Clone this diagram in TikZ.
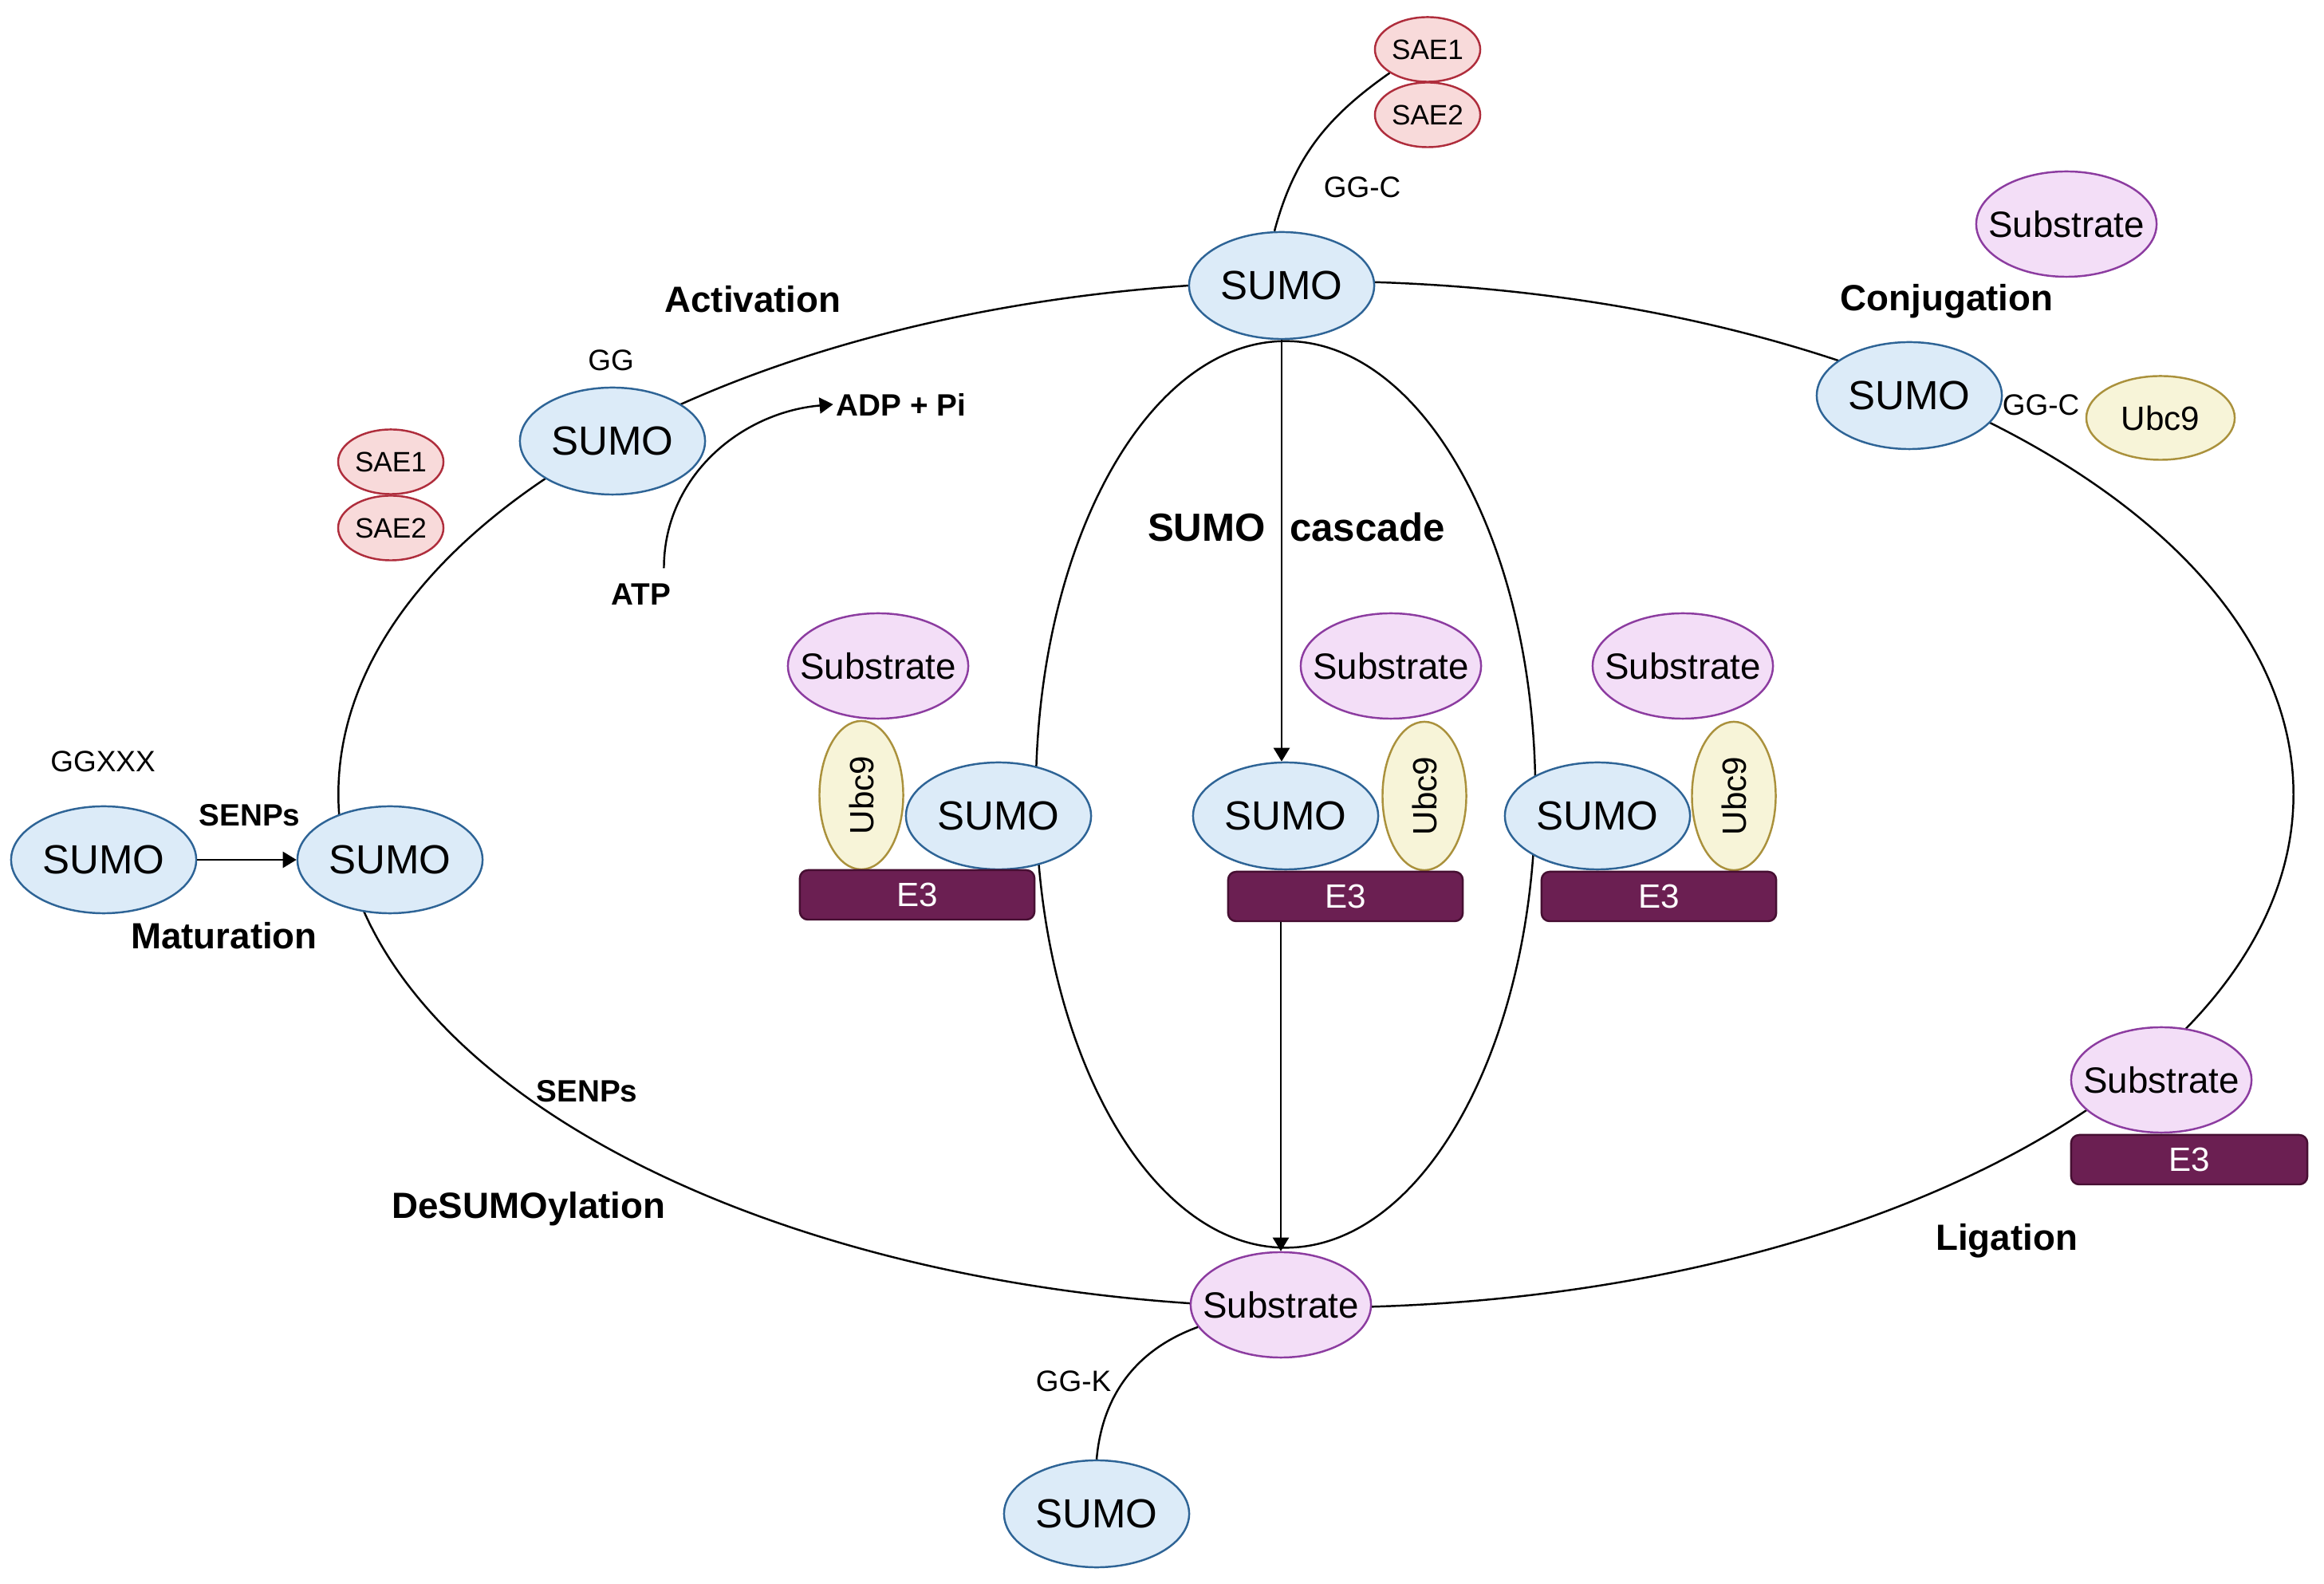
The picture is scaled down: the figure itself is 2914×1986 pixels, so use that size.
\documentclass[tikz,border=0pt]{standalone}
\usepackage{fontspec}
\setmainfont{Liberation Sans}
\usetikzlibrary{arrows.meta,shapes.geometric}
\definecolor{sumofill}{HTML}{DCEBF8}
\definecolor{sumoline}{HTML}{2E6496}
\definecolor{subfill}{HTML}{F3DEF7}
\definecolor{subline}{HTML}{8C3CA0}
\definecolor{saefill}{HTML}{F8DADA}
\definecolor{saeline}{HTML}{AF2D3C}
\definecolor{ubcfill}{HTML}{F7F4D8}
\definecolor{ubcline}{HTML}{AA913C}
\definecolor{ethreefill}{HTML}{6B1F52}
\definecolor{ethreeline}{HTML}{460F32}
\begin{document}
\begin{tikzpicture}[x=0.01cm,y=0.01cm,
  nowidth/.style={execute at begin node={\hbox to 0pt\bgroup\hss},execute at end node={\hss\egroup}},
  sumo/.style={ellipse,nowidth,draw=sumoline,fill=sumofill,line width=0.7pt,minimum width=2.32cm,minimum height=1.34cm,inner sep=0pt,font=\fontsize{14.5}{16}\selectfont},
  subs/.style={ellipse,nowidth,draw=subline,fill=subfill,line width=0.7pt,minimum width=2.26cm,minimum height=1.32cm,inner sep=0pt,font=\fontsize{13}{15}\selectfont},
  sae/.style={ellipse,nowidth,draw=saeline,fill=saefill,line width=0.7pt,minimum width=1.32cm,minimum height=0.81cm,inner sep=0pt,font=\fontsize{10}{12}\selectfont},
  ubch/.style={ellipse,nowidth,draw=ubcline,fill=ubcfill,line width=0.7pt,minimum width=1.86cm,minimum height=1.05cm,inner sep=0pt,font=\fontsize{12}{14}\selectfont},
  ethree/.style={rectangle,rounded corners=0.1cm,draw=ethreeline,fill=ethreefill,line width=0.7pt,minimum width=2.94cm,minimum height=0.62cm,inner sep=0pt,text=white,font=\fontsize{12}{14}\selectfont},
  phase/.style={font=\bfseries\fontsize{13}{15}\selectfont,inner sep=1pt},
  bsmall/.style={font=\bfseries\fontsize{11}{13}\selectfont,inner sep=1pt},
  small/.style={font=\fontsize{10.5}{12}\selectfont,inner sep=1pt},
  arr/.style={-{Triangle[length=0.17cm,width=0.2cm]},line width=0.7pt},
  cyc/.style={line width=0.7pt}
]
\useasboundingbox (0,-1986) rectangle (2914,0);
% cycles
\draw[cyc] (1650,-996) ellipse [x radius=12.25cm, y radius=6.43cm];
\draw[cyc] (1612,-996) ellipse [x radius=3.13cm, y radius=5.68cm];

% top
\node[sae] (sae1t) at (1790,-62) {SAE1};
\node[sae] (sae2t) at (1790,-144) {SAE2};
\node[small] (ggct) at (1708,-235) {GG-C};
\node[sumo] (tops) at (1607,-358) {SUMO};
\node[subs] (subtr) at (2591,-281) {Substrate};
\node[phase] (lact) at (944,-375) {Activation};
\node[phase] (lconj) at (2441,-378) {Conjugation};

% activation
\node[small] (gg) at (766,-452) {GG};
\node[sumo] (sumoact) at (768,-553) {SUMO};
\node[bsmall] (adp) at (1130,-507) {ADP + Pi};
\node[bsmall] (atp) at (804,-745) {ATP};
\node[sae] (sae1l) at (490,-579) {SAE1};
\node[sae] (sae2l) at (490,-662) {SAE2};

% conjugation
\node[sumo] (sumoconj) at (2394,-496) {SUMO};
\node[small] (ggcr) at (2559,-508) {GG-C};
\node[ubch] (ubcr) at (2709,-524) {Ubc9};

% cascade label
\node[phase,font=\bfseries\fontsize{14}{16}\selectfont,anchor=base east] (lcas1) at (1591,-679) {SUMO};
\node[phase,font=\bfseries\fontsize{14}{16}\selectfont,anchor=base west] (lcas2) at (1613,-679) {cascade};

% complex 1
\node[subs] (sub1) at (1101,-835) {Substrate};
\node[ubch,rotate=90] (ubc1) at (1080,-997) {Ubc9};
\node[sumo] (sumo1) at (1252,-1023) {SUMO};
\node[ethree] (e3a) at (1150,-1122) {E3};

% complex 2
\node[subs] (sub2) at (1744,-835) {Substrate};
\node[ubch,rotate=90] (ubc2) at (1786,-998) {Ubc9};
\node[sumo] (sumo2) at (1612,-1023) {SUMO};
\node[ethree] (e3b) at (1687,-1124) {E3};

% complex 3
\node[subs] (sub3) at (2110,-835) {Substrate};
\node[ubch,rotate=90] (ubc3) at (2174,-998) {Ubc9};
\node[sumo] (sumo3) at (2003,-1023) {SUMO};
\node[ethree] (e3c) at (2080,-1124) {E3};

% maturation
\node[small] (ggxxx) at (129,-955) {GGXXX};
\node[sumo] (sumo0) at (130,-1078) {SUMO};
\node[sumo] (sumom) at (489,-1078) {SUMO};
\node[bsmall] (senp1) at (313,-1022) {SENPs};
\node[phase] (lmat) at (281,-1173) {Maturation};

% desumoylation / ligation
\node[bsmall] (senp2) at (736,-1368) {SENPs};
\node[phase] (ldes) at (663,-1516) {DeSUMOylation};
\node[phase] (llig) at (2516,-1556) {Ligation};
\node[subs] (subr) at (2710,-1354) {Substrate};
\node[ethree,minimum width=2.96cm] (e3r) at (2745,-1454) {E3};

% bottom
\node[subs] (subb) at (1606,-1636) {Substrate};
\node[small] (ggk) at (1346,-1732) {GG-K};
\node[sumo] (sumob) at (1375,-1898) {SUMO};

% connectors
\draw[arr] (tops.south) -- (tops.south |- sumo2.north);
\draw[arr] (subb.north |- e3b.south) -- (subb.north);
\draw[arr] (sumo0) -- (sumom);
\draw[arr] ([xshift=-0.13cm,yshift=0.15cm]atp.north east) to[out=90,in=185] (adp.west);
\draw[cyc] (sae1t.south west) to[out=215,in=75] ([xshift=-0.09cm]tops.north);
\draw[cyc] (subb.195) to[out=200,in=85] (sumob.north);
\end{tikzpicture}
\end{document}
